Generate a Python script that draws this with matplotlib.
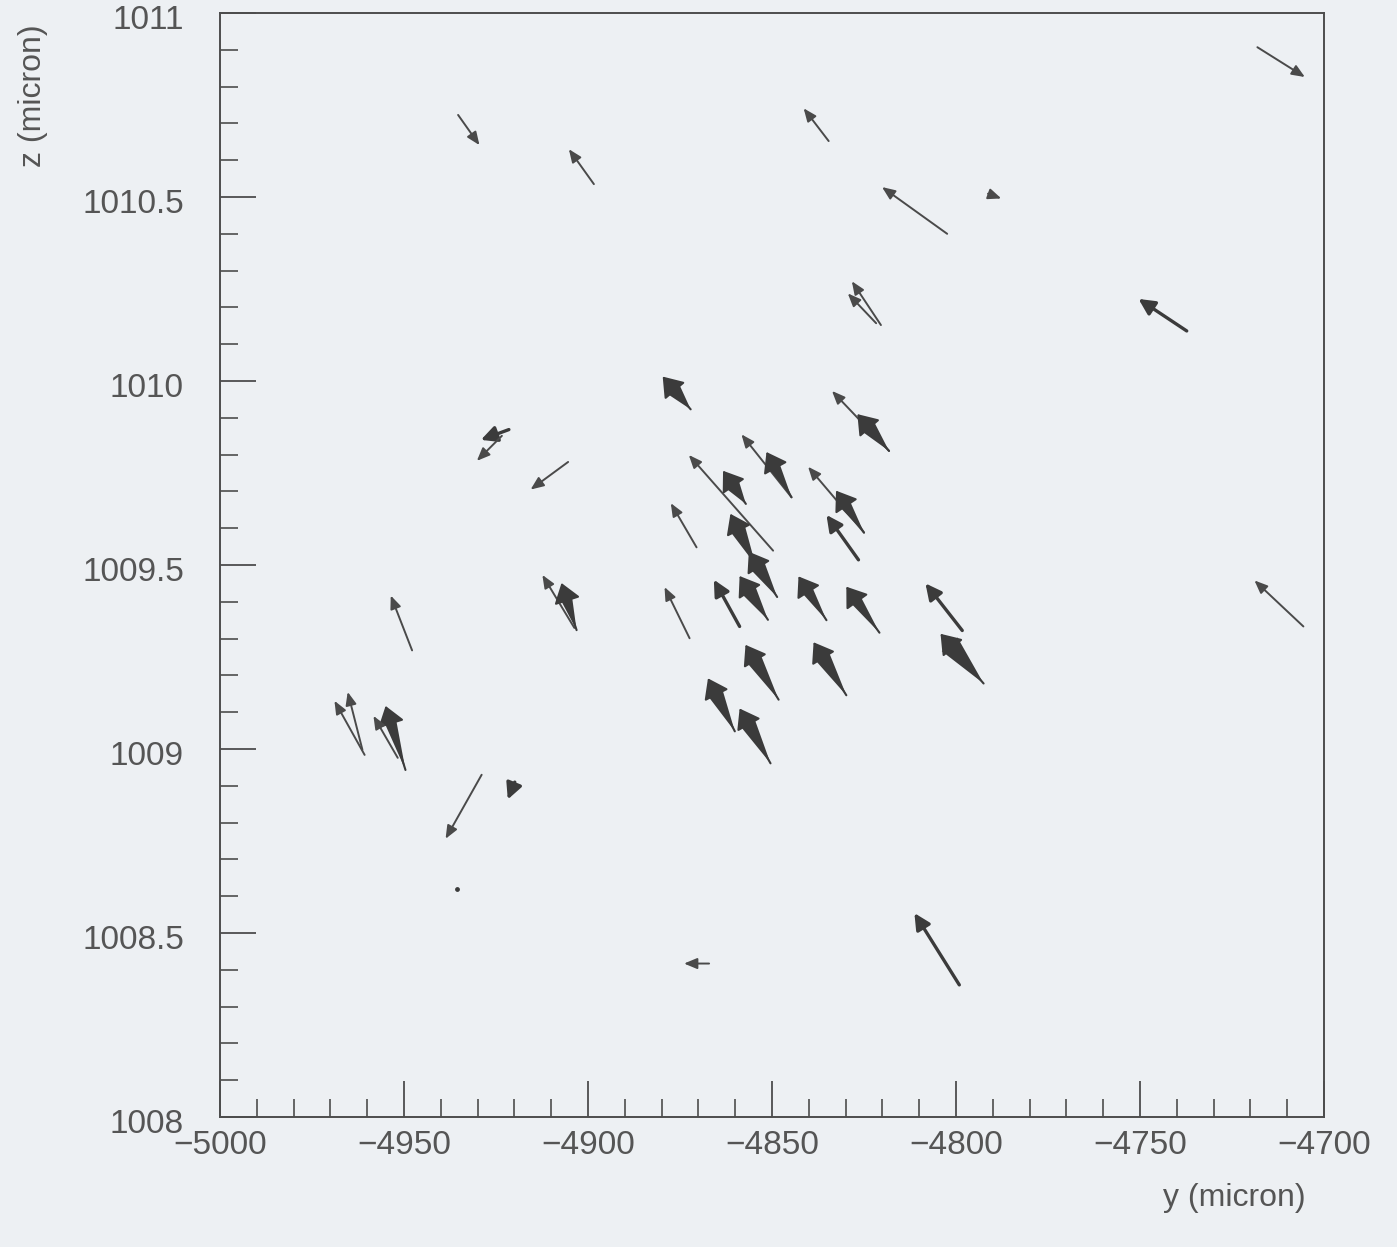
import numpy as np
import matplotlib
matplotlib.use("Agg")
import matplotlib.pyplot as plt
from matplotlib.patches import FancyArrowPatch, ArrowStyle
from matplotlib.ticker import MultipleLocator, FuncFormatter
from matplotlib.transforms import ScaledTranslation

# displacement vectors: tail (y, z) -> head (y, z), in micron
# n_tracks = number of overlapping vectors drawn on top of each other
tail_y = [-4718.1, -4935.3, -4898.4, -4834.6, -4802.4, -4791.3, -4820.4, -4821.7,
          -4737.3, -4705.6, -4799.1, -4867.1, -4928.9, -4919.9, -4960.7, -4961.3,
          -4949.6, -4951.7, -4947.8, -4903.7, -4903.1, -4921.5, -4923.4, -4905.4,
          -4872.1, -4818.2, -4818.2, -4844.7, -4844.7, -4849.7, -4857.1, -4854.5,
          -4848.6, -4851.1, -4858.8, -4872.4, -4870.5, -4835.2, -4820.8, -4798.3,
          -4792.5, -4848.2, -4829.8, -4860.1, -4850.4, -4825.0, -4825.0, -4826.5]
tail_z = [1010.907, 1010.723, 1010.535, 1010.652, 1010.400, 1010.509, 1010.152, 1010.157,
          1010.136, 1009.333, 1008.359, 1008.417, 1008.930, 1008.910, 1008.984, 1008.998,
          1008.943, 1008.976, 1009.268, 1009.329, 1009.323, 1009.868, 1009.851, 1009.780,
          1009.923, 1009.810, 1009.810, 1009.684, 1009.684, 1009.539, 1009.666, 1009.501,
          1009.413, 1009.351, 1009.333, 1009.301, 1009.548, 1009.350, 1009.316, 1009.322,
          1009.178, 1009.134, 1009.146, 1009.048, 1008.961, 1009.588, 1009.588, 1009.514]
head_y = [-4705.2, -4929.5, -4905.2, -4841.4, -4820.1, -4787.7, -4828.3, -4829.4,
          -4750.4, -4718.9, -4811.3, -4873.9, -4938.7, -4921.8, -4968.9, -4965.3,
          -4955.0, -4958.3, -4953.6, -4912.4, -4907.2, -4929.1, -4930.2, -4915.6,
          -4879.7, -4833.7, -4826.8, -4858.3, -4851.5, -4872.6, -4863.3, -4861.3,
          -4856.3, -4858.8, -4865.8, -4879.2, -4877.5, -4842.8, -4829.8, -4808.3,
          -4804.2, -4857.2, -4838.7, -4867.4, -4858.8, -4840.2, -4832.6, -4835.2]
head_z = [1010.826, 1010.641, 1010.630, 1010.741, 1010.527, 1010.496, 1010.271, 1010.238,
          1010.223, 1009.458, 1008.554, 1008.417, 1008.756, 1008.863, 1009.131, 1009.155,
          1009.117, 1009.090, 1009.417, 1009.473, 1009.451, 1009.840, 1009.783, 1009.705,
          1010.012, 1009.973, 1009.910, 1009.855, 1009.807, 1009.799, 1009.756, 1009.639,
          1009.536, 1009.470, 1009.460, 1009.440, 1009.668, 1009.469, 1009.441, 1009.450,
          1009.313, 1009.283, 1009.290, 1009.192, 1009.110, 1009.767, 1009.702, 1009.636]
n_tracks = [1, 1, 1, 1, 1, 1, 1, 1,
            2, 1, 2, 1, 1, 2, 1, 1,
            3, 1, 1, 1, 3, 2, 1, 1,
            4, 1, 4, 1, 3, 1, 4, 4,
            4, 4, 2, 1, 1, 3, 3, 2,
            5, 4, 4, 4, 4, 1, 3, 2]

# single point with no measurable displacement
dot_y = [-4935.5]
dot_z = [1008.62]

bg = "#edf0f3"
ink = "#3b3b3b"
txt = "#555555"

plt.rcParams["font.family"] = ["Liberation Sans", "DejaVu Sans"]

fig = plt.figure(figsize=(13.97, 12.47), dpi=100, facecolor=bg)
ax = fig.add_axes([220 / 1397, 130 / 1247, 1104 / 1397, 1104 / 1247])
ax.set_facecolor(bg)
ax.set_xlim(-5000, -4700)
ax.set_ylim(1008, 1011)

for y0, z0, y1, z1, n in zip(tail_y, tail_z, head_y, head_z, n_tracks):
    if n >= 3:
        # cone of overlapping vectors, starting at the base of the head
        cone = FancyArrowPatch((y1, z1), (y0, z0),
                               arrowstyle=ArrowStyle("wedge", tail_width=0.3 * n, shrink_factor=0.5),
                               mutation_scale=10, color=ink, lw=0, shrinkA=10, shrinkB=0)
        ax.add_patch(cone)
        head = FancyArrowPatch((y0, z0), (y1, z1),
                               arrowstyle=ArrowStyle("-|>", head_length=0.45, head_width=0.32),
                               mutation_scale=26, color=ink, lw=1.5, shrinkA=0, shrinkB=0)
        ax.add_patch(head)
    elif n == 2:
        a = FancyArrowPatch((y0, z0), (y1, z1),
                            arrowstyle=ArrowStyle("-|>", head_length=0.6, head_width=0.3),
                            mutation_scale=16, color=ink, lw=2.4, shrinkA=0, shrinkB=0)
        ax.add_patch(a)
    else:
        a = FancyArrowPatch((y0, z0), (y1, z1),
                            arrowstyle=ArrowStyle("-|>", head_length=0.6, head_width=0.25),
                            mutation_scale=13, color="#4a4a4a", lw=1.4, shrinkA=0, shrinkB=0)
        ax.add_patch(a)

ax.scatter(dot_y, dot_z, s=6, color=ink, zorder=3)

for s in ax.spines.values():
    s.set_color("#4d4d4d")
    s.set_linewidth(1.4)

ax.xaxis.set_major_locator(MultipleLocator(50))
ax.xaxis.set_minor_locator(MultipleLocator(10))
ax.yaxis.set_major_locator(MultipleLocator(0.5))
ax.yaxis.set_minor_locator(MultipleLocator(0.1))
ax.yaxis.set_major_formatter(FuncFormatter(lambda v, p: f"{v:g}"))
ax.tick_params(which="major", direction="in", length=26, width=1.3, color="#4d4d4d",
               labelsize=24, labelcolor=txt)
ax.tick_params(which="minor", direction="in", length=13, width=1.2, color="#4d4d4d")
ax.tick_params(axis="y", which="major", pad=26)
ax.tick_params(axis="x", which="major", pad=9)
# the z labels sit slightly below their ticks
shift = ScaledTranslation(0, -3 / 72, fig.dpi_scale_trans)
for lbl in ax.get_yticklabels():
    lbl.set_transform(lbl.get_transform() + shift)

ax.set_xlabel("y (micron)", fontsize=23, color=txt, loc="right")
ax.xaxis.set_label_coords(0.983, -0.06)
ax.set_ylabel("z (micron)", fontsize=23, color=txt, loc="top")
ax.yaxis.set_label_coords(-0.156, 0.99)

fig.savefig("out.png", dpi=100, facecolor=bg)
